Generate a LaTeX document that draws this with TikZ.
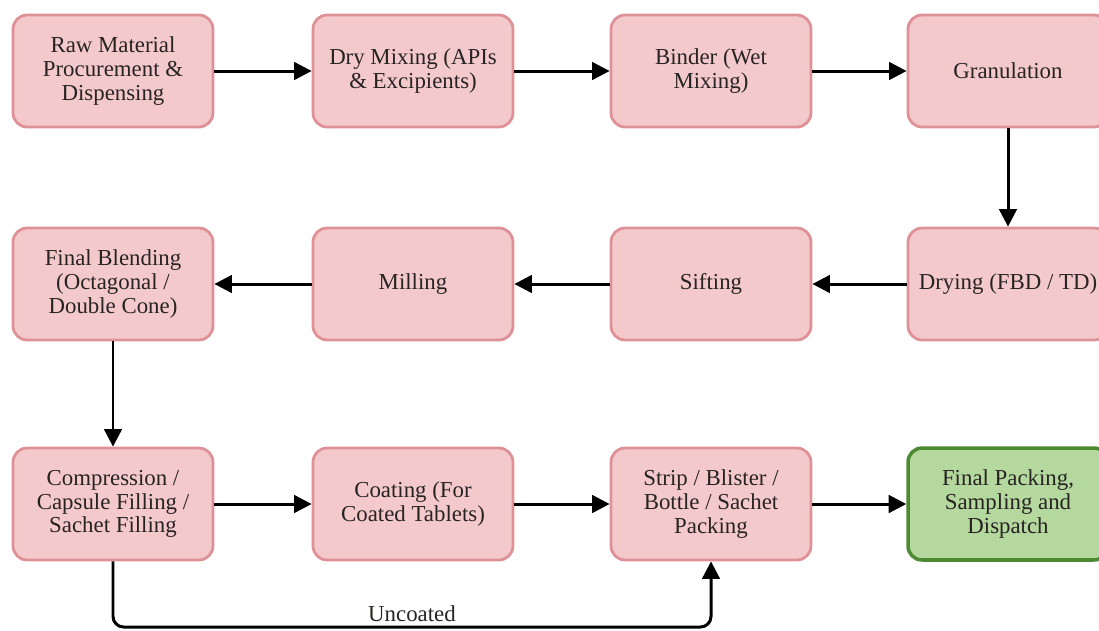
\documentclass[tikz,border=0pt]{standalone}
\usepackage{fontspec}
\setmainfont{Liberation Serif}
\usetikzlibrary{arrows.meta,positioning}
\definecolor{stepfill}{RGB}{244,201,203}
\definecolor{stepline}{RGB}{222,145,150}
\definecolor{endfill}{RGB}{180,216,158}
\definecolor{endline}{RGB}{78,138,52}
\definecolor{textgray}{RGB}{40,35,35}
\tikzset{
  stepbox/.style={draw=stepline, fill=stepfill, line width=1.6pt, rounded corners=8pt,
    minimum width=4cm, minimum height=2.24cm, align=center, text=textgray,
    font=\rmfamily\fontsize{13}{13.4}\selectfont},
  endbox/.style={stepbox, draw=endline, fill=endfill, line width=2pt},
  arrow/.style={line width=1.7pt, -{Triangle[length=10pt,width=10pt]}, color=black}
}
\begin{document}
\begin{tikzpicture}[x=0.02cm, y=-0.02cm]
\useasboundingbox (0,0) rectangle (1099,630);
% First row
\node[stepbox] (raw) at (113,71) {Raw Material\\Procurement \&\\Dispensing};
\node[stepbox] (drymix) at (413,71) {Dry Mixing (APIs\\\& Excipients)};
\node[stepbox] (binder) at (711,71) {Binder (Wet\\Mixing)};
\node[stepbox] (gran) at (1008,71) {Granulation};

% Second row (right to left)
\node[stepbox] (drying) at (1008,284) {Drying (FBD / TD)};
\node[stepbox] (sift) at (711,284) {Sifting};
\node[stepbox] (mill) at (413,284) {Milling};
\node[stepbox] (blend) at (113,284) {Final Blending\\(Octagonal /\\Double Cone)};

% Third row
\node[stepbox] (comp) at (113,504) {Compression /\\Capsule Filling /\\Sachet Filling};
\node[stepbox] (coat) at (413,504) {Coating (For\\Coated Tablets)};
\node[stepbox] (strip) at (711,504) {Strip / Blister /\\Bottle / Sachet\\Packing};
\node[endbox] (final) at (1008,504) {Final Packing,\\Sampling and\\Dispatch};

% Flow
\draw[arrow] (raw) -- (drymix);
\draw[arrow] (drymix) -- (binder);
\draw[arrow] (binder) -- (gran);
\draw[arrow] (gran) -- (drying);
\draw[arrow] (drying) -- (sift);
\draw[arrow] (sift) -- (mill);
\draw[arrow] (mill) -- (blend);
\draw[arrow] (blend) -- (comp);
\draw[arrow] (comp) -- (coat);
\draw[arrow] (coat) -- (strip);
\draw[arrow] (strip) -- (final);

% Bypass for uncoated tablets
\coordinate (low) at (113,627);
\draw[arrow, rounded corners=6pt] (comp.south) -- (comp.south |- low)
  -- node[above, text=textgray, font=\rmfamily\fontsize{13}{13.4}\selectfont, inner sep=2pt] {Uncoated} (strip.south |- low)
  -- (strip.south);
\end{tikzpicture}
\end{document}
